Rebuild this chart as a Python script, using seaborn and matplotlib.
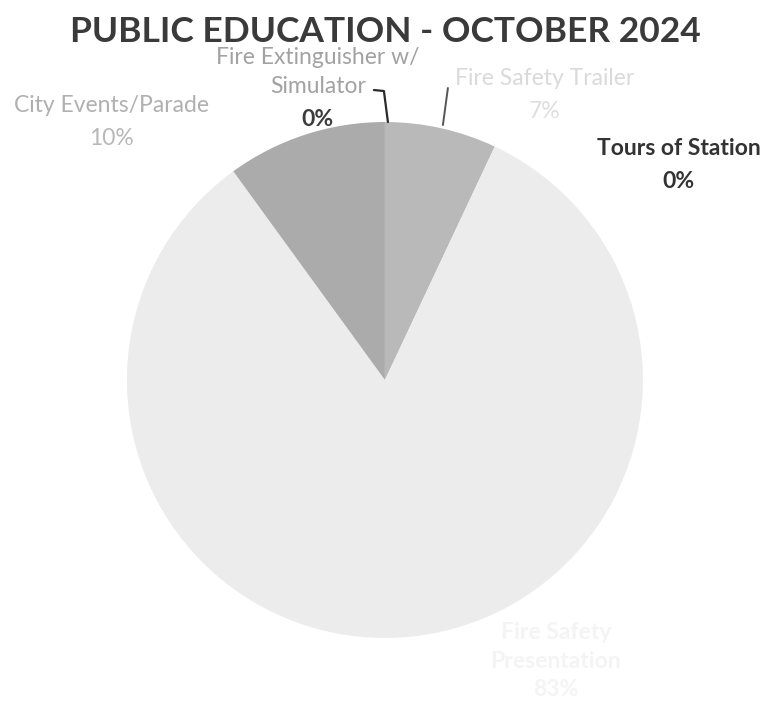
import matplotlib
matplotlib.use("Agg")
import matplotlib.pyplot as plt
import seaborn as sns

sns.set_theme(style="white")
plt.rcParams["font.family"] = ["Lato", "DejaVu Sans"]

# Activity shares, clockwise from 12 o'clock
activities = ["Fire Extinguisher w/\nSimulator", "Fire Safety Trailer", "Tours of Station",
              "Fire Safety\nPresentation", "City Events/Parade"]
shares = [0, 7, 0, 83, 10]
slice_colors = ["#a6a6a6", "#b9b9b9", "#d4d4d4", "#ececec", "#ababab"]

fig = plt.figure(figsize=(7.67, 7.04), dpi=100)
ax = fig.add_axes([0, 0, 1, 1])
ax.pie(shares, colors=slice_colors, startangle=90, counterclock=False,
       radius=1.0, wedgeprops=dict(linewidth=0))
ax.set_xlim(-1.492, 1.481)
ax.set_ylim(-1.256, 1.473)
ax.set_aspect("equal")
ax.axis("off")

def px(x, y):
    return (x - 385) / 258, (380 - y) / 258

fig.text(0.502, 0.955, "PUBLIC EDUCATION - OCTOBER 2024", ha="center", va="center",
         fontsize=25.5, fontweight="bold", color="#3a3a3a")

def pct(v):
    return f"{v}%"

label_specs = [
    # (index, name pixel pos, pct pixel pos, name color, pct color, weight, pct weight)
    (0, (318, 72), (318, 119), "#a2a2a2", "#3c3c3c", "normal", "bold"),
    (4, (112, 105), (112, 138), "#b0b0b0", "#b8b8b8", "normal", "normal"),
    (1, (545, 78), (545, 111), "#dadada", "#dedede", "normal", "normal"),
    (2, (679, 148), (679, 181), "#333333", "#333333", "bold", "bold"),
    (3, (556, 647), (556, 690), "#f4f4f4", "#f4f4f4", "bold", "bold"),
]
for idx, npos, ppos, ncol, pcol, nw, pw in label_specs:
    ax.text(*px(*npos), activities[idx], ha="center", va="center", fontsize=16.5,
            color=ncol, fontweight=nw, linespacing=1.45)
    ax.text(*px(*ppos), pct(shares[idx]), ha="center", va="center", fontsize=16.5,
            color=pcol, fontweight=pw)

# Leader lines for the labels sitting above the pie
ax.plot(*zip(px(374, 90), px(384, 91), px(388, 122)), color="#2a2a2a", lw=1.6)
ax.plot(*zip(px(448, 88), px(443, 125)), color="#555555", lw=1.4)

fig.savefig("out.png", dpi=100, facecolor="white")
